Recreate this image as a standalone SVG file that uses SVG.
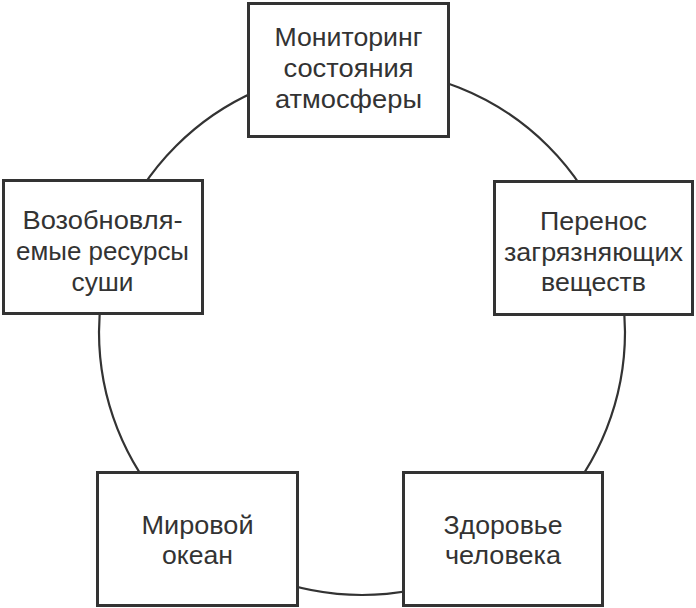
<svg xmlns="http://www.w3.org/2000/svg" width="696" height="608" viewBox="0 0 696 608">
<style>
.box{fill:#fff;stroke:#333;stroke-width:3}
.ring{fill:none;stroke:#333;stroke-width:2.2}
text{font-family:"Liberation Sans",Arial,sans-serif;font-size:25px;fill:#333;text-anchor:middle}
</style>
<rect width="696" height="608" fill="#fff"/>
<g id="connectors">
<circle class="ring" cx="362" cy="332" r="263"/>
</g>
<g id="n1">
<rect class="box" x="248.5" y="3.5" width="200" height="133"/>
<text x="348.5" y="46" textLength="148" lengthAdjust="spacingAndGlyphs">Мониторинг</text>
<text x="348.5" y="77" textLength="130" lengthAdjust="spacingAndGlyphs">состояния</text>
<text x="348.5" y="108" textLength="147" lengthAdjust="spacingAndGlyphs">атмосферы</text>
</g>
<g id="n2">
<rect class="box" x="494.5" y="181.5" width="198" height="133"/>
<text x="593.5" y="230" textLength="107" lengthAdjust="spacingAndGlyphs">Перенос</text>
<text x="593.5" y="261" textLength="179" lengthAdjust="spacingAndGlyphs">загрязняющих</text>
<text x="593.5" y="291" textLength="105" lengthAdjust="spacingAndGlyphs">веществ</text>
</g>
<g id="n3">
<rect class="box" x="403.5" y="472.5" width="199" height="133"/>
<text x="503" y="534" textLength="119" lengthAdjust="spacingAndGlyphs">Здоровье</text>
<text x="503" y="564" textLength="116" lengthAdjust="spacingAndGlyphs">человека</text>
</g>
<g id="n4">
<rect class="box" x="97.5" y="472.5" width="200" height="133"/>
<text x="197.5" y="534" textLength="112" lengthAdjust="spacingAndGlyphs">Мировой</text>
<text x="197.5" y="564" textLength="71" lengthAdjust="spacingAndGlyphs">океан</text>
</g>
<g id="n5">
<rect class="box" x="3.5" y="180.5" width="199" height="133"/>
<text x="102.5" y="229" textLength="160" lengthAdjust="spacingAndGlyphs">Возобновля-</text>
<text x="102.5" y="260" textLength="173" lengthAdjust="spacingAndGlyphs">емые ресурсы</text>
<text x="102.5" y="291" textLength="62" lengthAdjust="spacingAndGlyphs">суши</text>
</g>
</svg>
